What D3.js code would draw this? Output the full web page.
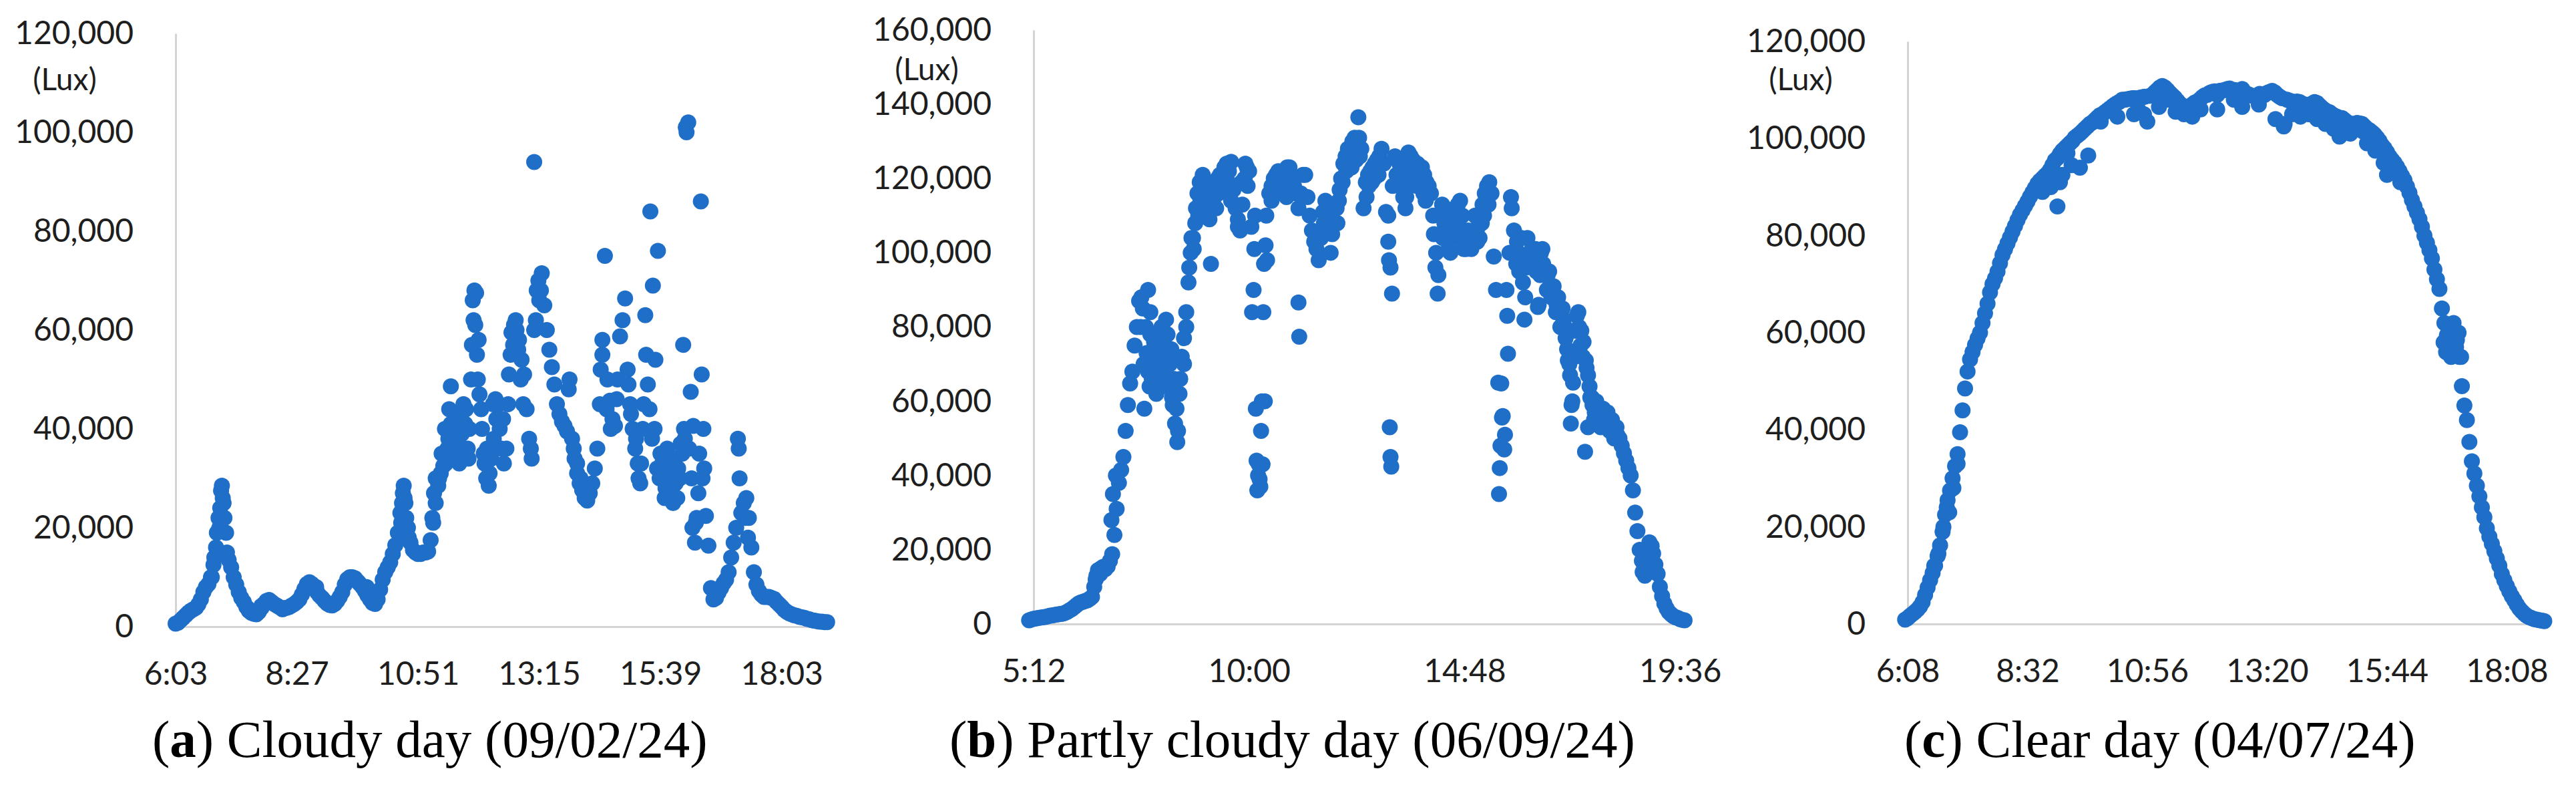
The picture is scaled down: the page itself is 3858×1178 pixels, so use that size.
<!DOCTYPE html>
<html>
<head>
<meta charset="utf-8">
<script src="https://cdn.jsdelivr.net/npm/d3@7"></script>
<style>
  html, body { margin: 0; padding: 0; background: #ffffff; }
  svg { display: block; }
</style>
</head>
<body>
<svg id="chart" width="3858" height="1178"></svg>
<script>
// ---------------- DATA (illuminance in thousands of lux) ----------------
// Panel (a) cloudy day: readings every 3 minutes from 6:03
const cloudyStart = "6:03";
const cloudyStepMin = 3;
const cloudyKlux = [
  0.6,0.8,1.3,1.8,2.3,2.8,3.2,3.5,3.8,4.5,
  5.5,7.0,8.0,8.6,10.0,12.5,16.0,22.0,27.5,25.0,
  19.0,13.5,12.0,10.0,8.5,7.0,5.8,5.0,4.0,3.2,
  2.8,2.6,2.5,3.0,3.8,4.6,5.2,5.4,5.0,4.6,
  4.3,4.0,3.8,3.7,3.8,4.0,4.3,4.6,5.0,5.5,
  6.5,7.6,8.6,9.0,8.6,7.8,7.0,6.3,5.8,5.2,
  4.7,4.4,4.3,4.6,5.2,6.0,7.0,8.5,9.6,10.0,
  10.0,9.8,9.2,8.6,8.0,7.2,6.3,5.5,4.8,4.6,
  5.5,7.5,9.5,11.0,12.0,13.0,14.7,16.5,19.0,23.0,
  27.0,25.0,20.0,17.0,15.5,15.0,14.7,14.7,15.0,15.0,
  15.2,17.5,21.0,25.0,28.5,31.0,32.5,33.0,38.0,41.0,
  40.0,43.0,38.0,42.0,36.0,44.0,34.0,50.0,62.0,67.5,
  58.0,44.0,35.0,30.0,28.5,34.0,38.0,42.0,45.0,36.0,
  33.0,36.0,51.0,59.5,61.0,60.0,58.0,54.0,51.0,44.0,
  38.0,34.0,60.0,68.0,66.0,71.5,65.0,60.0,56.0,52.5,
  49.0,45.0,43.0,41.5,40.6,39.5,50.0,38.0,34.0,31.0,
  29.0,27.6,26.0,25.5,27.0,29.0,32.0,36.0,45.0,58.0,
  75.0,50.0,45.7,42.0,40.6,50.0,58.7,62.0,66.4,52.0,
  45.0,40.0,36.0,33.0,29.0,40.0,63.0,49.0,84.0,69.0,
  54.0,76.0,35.0,30.0,28.0,32.0,26.0,25.0,29.0,32.0,
  37.0,57.0,101.0,102.0,47.5,40.6,21.0,27.0,86.0,40.0,
  22.4,16.4,7.8,5.5,5.8,6.9,7.8,8.8,9.5,11.0,
  14.0,17.0,20.0,36.0,23.0,25.0,26.0,22.0,16.0,11.0,
  8.5,7.2,6.5,6.0,6.0,6.0,5.8,5.6,5.0,4.5,
  4.0,3.4,3.0,2.7,2.5,2.3,2.2,2.0,1.9,1.8,
  1.6,1.5,1.3,1.2,1.1,1.0,1.0,0.9,0.9
];
// extra scattered readings [time, klux]
const cloudyExtra = [
  ["6:55",20],["6:56",24],["6:58",28.5],["6:59",26],["7:01",22],["6:49",14],["6:52",19],["6:46",10],["7:04",15],
  ["7:30",3.5],["7:45",4.2],["8:10",3.5],["8:50",8.0],["9:40",9.0],["9:50",8.0],
  ["10:31",21],["10:32",25],["10:34",28.5],["10:35",26],["10:37",22],["10:40",18],
  ["11:08",22],["11:10",27],["11:12",30],
  ["11:16",30],["11:19",35],["11:23",40],["11:26",36],["11:28",44],["11:30",48.6],["11:32",35],["11:35",38],
  ["11:38",42],["11:40",33],["11:43",39],["11:47",41],["11:52",40],["11:45",45],["11:50",36],
  ["11:55",57],["11:56",66],["11:58",68],["11:59",61],["12:01",55],["12:02",50],["12:04",47],
  ["12:07",40],["12:10",33],["12:13",36],["12:16",31],["12:20",45],["12:23",46],
  ["12:28",40],["12:32",42],["12:38",45],["12:41",55],["12:44",57],["12:47",62],["12:50",56],["12:53",50],["12:56",45],
  ["13:09",94],["13:11",62],["13:14",70],["13:17",68],["13:05",36],
  ["13:50",48],["14:04",30],["14:10",28],["13:56",36],["14:00",33],
  ["14:28",52],["14:30",55],["14:40",40],["14:47",46],["14:35",44],
  ["15:01",49],["15:04",43],["15:10",38],["15:13",30],["15:16",33],["15:19",45],["15:22",55],
  ["15:26",44],["15:29",38],["15:32",40],["15:35",32],["15:38",30],["15:41",33],["15:44",26],["15:47",36],
  ["15:50",30],["15:53",28],["15:56",34],["15:59",26],["16:02",30],["16:05",35],
  ["16:07",40],["16:10",100],["16:08",38],["16:13",36],["16:16",30],["16:17",20],["16:20",17],["16:22",22],
  ["16:25",35],["16:28",51],["16:29",30],["16:31",32],
  ["17:11",38],["17:13",30],["17:20",22],["17:23",18]
];
const cloudyTicks = ["6:03","8:27","10:51","13:15","15:39","18:03"];
const cloudyYTicks = [0,20000,40000,60000,80000,100000,120000];

// Panel (b) partly cloudy day: readings every 3 minutes from 5:06
const partlyStart = "5:06";
const partlyStepMin = 3;
const partlyKlux = [
  1.0,1.2,1.4,1.5,1.6,1.7,1.8,1.9,2.0,2.2,
  2.3,2.4,2.5,2.6,2.7,2.8,3.0,3.3,3.7,4.0,
  4.5,5.0,5.5,5.8,6.0,6.2,6.4,6.8,7.3,10.0,
  13.0,14.0,15.0,15.4,14.8,15.5,17.0,18.8,24.0,31.0,
  38.0,41.5,45.0,52.0,59.0,64.8,68.0,75.0,80.0,87.0,
  88.0,70.0,80.0,68.0,78.0,72.0,66.0,74.0,70.0,80.0,
  76.0,82.0,72.0,64.0,59.0,54.0,49.0,62.0,72.0,77.0,
  84.0,92.0,100.0,104.0,108.0,116.0,119.0,117.0,113.0,110.0,
  115.0,97.0,114.0,117.0,120.0,121.0,120.0,123.0,124.0,122.0,
  124.5,117.0,112.0,107.0,106.0,113.0,120.0,123.0,122.0,107.0,
  90.0,58.0,40.0,37.0,43.0,60.0,98.0,116.0,118.0,120.0,
  121.0,122.0,120.0,119.0,121.0,123.0,123.0,120.0,118.0,116.0,
  112.0,116.0,121.0,121.0,115.0,110.0,106.0,103.0,101.0,98.0,
  104.0,111.0,114.0,112.0,108.0,105.0,108.0,112.0,114.0,120.0,
  124.0,126.0,128.0,127.0,130.0,131.0,129.0,131.0,128.0,112.0,
  119.0,121.0,122.0,123.0,124.0,125.0,126.0,128.0,124.0,111.0,
  103.0,96.0,118.0,126.0,125.0,124.0,122.0,118.0,115.0,127.0,
  126.0,125.0,124.0,124.0,123.0,123.0,121.0,119.0,118.0,116.0,
  110.0,96.0,89.0,105.0,113.0,108.0,104.0,102.0,106.0,110.0,
  111.0,113.0,114.0,110.0,106.0,104.0,102.0,101.0,103.0,106.0,
  107.0,110.0,113.0,116.0,118.0,119.0,116.0,99.0,90.0,65.0,
  48.0,56.0,51.0,83.0,100.0,112.0,106.0,97.0,100.0,99.0,
  92.0,88.0,104.0,100.0,101.0,100.0,95.0,86.0,100.0,97.0,
  95.0,94.0,91.0,90.0,88.0,86.0,85.0,84.0,82.0,77.0,
  71.0,67.0,60.0,72.0,83.0,80.0,79.0,76.0,71.0,67.0,
  61.0,59.0,57.0,56.0,55.0,56.0,56.0,55.0,55.0,54.0,
  53.0,52.0,51.0,50.0,48.0,46.0,44.0,42.0,40.0,36.0,
  30.0,25.0,20.0,17.0,15.0,18.0,20.0,19.5,19.0,16.0,
  13.5,10.0,7.5,5.5,4.2,3.2,2.6,2.1,1.8,1.6,
  1.3,1.1,1.0
];
const partlyExtra = [
  ["6:35",12],["6:38",14.5],["6:41",13.5],["6:56",28],["6:58",35],["7:02",40],
  ["7:40",58],["7:35",80],["7:38",85],["7:43",73],["7:47",64],["7:50",66],["7:53",76],["7:56",62],["7:59",68],
  ["8:02",73],["8:05",68],["8:08",70],["8:11",78],["8:14",70],["8:17",61],["8:20",66],["8:23",58],
  ["7:45",90],["7:48",84],["7:52",74],["7:57",78],["8:00",65],["8:04",80],["8:10",64],["8:16",74],["8:25",52],["8:28",66],
  ["8:33",70],["8:36",80],
  ["8:40",96],["8:43",104],["8:46",101],["8:49",112],["8:52",110],["8:55",114],["8:58",121],["9:01",118],
  ["9:04",116],["9:07",109],["9:10",113],["9:13",119],["9:16",112],["9:19",116],["9:22",118],["9:26",117],
  ["9:29",121],["9:32",119],["9:36",114],["9:41",118],["9:45",109],["9:50",119],["9:55",124],["9:58",118],
  ["10:04",84],["10:07",101],["10:08",110],["10:10",44],["10:11",36],["10:13",43],["10:14",39],["10:16",52],
  ["10:17",60],["10:19",84],["10:20",97],["10:22",102],["10:23",110],
  ["10:30",114],["10:35",117],["10:43",118],["10:50",115],["10:56",117],
  ["11:06",86.6],["11:07",77.4],
  ["11:40",108],["11:46",106],["11:49",100],["11:52",112],["11:58",108],["12:01",117],["12:05",119],["12:10",122],
  ["12:14",124],["12:17",123],["12:20",127],["12:23",125],["12:26",136.5],["12:28",126],
  ["12:37",115],["12:40",118],["12:44",119],["12:47",120],["12:50",122],["12:53",121],["12:56",124],
  ["13:06",110],["13:08",53],["13:09",45],["13:10",42.4],["13:11",89],["13:07",98],
  ["13:17",121],["13:20",120],["13:23",119],["13:26",115],["13:29",112],["13:35",122],["13:38",120],["13:41",121],
  ["13:44",118],["13:47",120],["13:50",118],["13:53",116],["13:56",114],
  ["14:07",105],["14:10",100],["14:13",94],["14:16",110],["14:19",104],["14:22",112],["14:26",105],["14:29",100],
  ["14:32",104],["14:35",106],["14:38",108],["14:41",110],["14:44",104],["14:47",101],["14:50",101],["14:53",106],
  ["15:02",110],["15:05",103],["15:08",104],["15:11",108],["15:14",110],["15:17",114],["15:20",113],
  ["15:34",35],["15:35",42],["15:37",64.8],["15:38",55.6],["15:41",47],["15:44",90],["15:46",72.8],["15:50",115],
  ["15:53",100],["15:58",103],["16:01",95],["16:04",104],["16:08",82],["16:10",96],["16:14",97],["16:17",98],
  ["16:20",96],["16:23",101],["16:26",85.4],["16:29",94],["16:32",101],
  ["16:38",90],["16:41",95],["16:44",88],["16:47",91],["16:50",84],["16:53",88],["16:56",80],["16:59",85],
  ["17:02",80],["17:05",74],["17:08",70],
  ["17:10",54],["17:11",59],["17:13",65],["17:16",79],["17:20",84],["17:23",75],["17:26",72],["17:29",46.4],
  ["17:31",69],["17:33",53],["17:35",64],["17:38",61],["17:41",55],["17:44",60],["17:47",58],["17:50",53],
  ["17:53",58],["17:56",53],["17:59",57],["18:02",52],["18:05",55],["18:08",50],["18:11",53],
  ["18:46",14],["18:49",13],["18:52",16],["18:55",22],["18:58",21]
];
const partlyTicks = ["5:12","10:00","14:48","19:36"];
const partlyYTicks = [0,20000,40000,60000,80000,100000,120000,140000,160000];

// Panel (c) clear day: readings every 3 minutes from 6:05
const clearStart = "6:05";
const clearStepMin = 3;
const clearKlux = [
  0.9,1.2,1.7,2.1,2.5,3.0,3.6,4.5,6.0,7.5,
  9.0,10.5,12.0,14.0,16.2,19.0,22.5,25.5,27.5,30.0,
  32.5,35.0,39.5,44.0,48.5,52.0,54.5,56.0,57.5,58.8,
  60.0,62.0,64.0,66.0,68.3,70.0,71.2,72.6,74.3,76.0,
  77.2,78.4,79.6,80.8,82.0,83.2,84.3,85.2,86.1,87.0,
  88.0,88.9,89.8,90.7,91.3,91.8,92.3,92.8,93.5,94.5,
  95.5,96.0,96.8,97.5,98.0,98.5,99.0,99.5,100.2,100.6,
  101.0,101.5,102.0,102.5,103.0,103.3,103.8,104.3,104.8,105.0,
  105.4,105.8,106.2,106.6,107.0,107.3,107.6,108.0,108.0,108.1,
  108.2,108.3,108.3,108.0,108.4,108.5,108.6,103.5,108.8,109.0,
  109.5,110.0,110.5,110.8,110.5,110.0,109.4,108.9,108.4,107.8,
  107.2,106.8,106.5,106.3,106.6,107.0,107.4,107.6,108.0,108.5,
  108.9,109.0,109.4,109.6,109.7,109.0,109.8,109.9,110.0,110.2,
  110.3,110.0,110.0,109.5,109.8,110.2,109.5,109.2,109.0,108.8,
  108.6,108.8,109.2,108.8,109.0,109.4,109.6,109.8,109.5,109.0,
  108.6,108.3,103.0,108.0,107.8,107.6,107.5,107.6,107.5,107.2,
  107.0,106.8,107.0,107.2,107.5,107.3,106.8,106.3,105.9,105.6,
  105.4,105.0,104.7,104.5,100.4,104.2,103.8,103.4,103.1,103.0,
  103.0,103.2,103.1,103.0,102.5,102.0,101.7,101.3,100.8,100.2,
  99.5,98.6,98.0,97.2,96.3,95.6,95.0,94.2,93.3,92.3,
  91.4,90.1,88.8,87.3,86.0,84.7,83.4,81.8,80.0,78.5,
  77.0,75.3,73.0,71.0,69.0,65.0,62.0,59.5,57.5,60.5,
  56.0,58.5,55.0,49.0,45.0,42.0,37.5,33.5,31.0,28.5,
  26.3,24.0,22.0,19.7,18.0,16.5,15.0,13.5,12.0,10.3,
  9.0,7.8,6.7,5.7,4.9,4.0,3.2,2.6,2.1,1.7,
  1.4,1.2,1.0,0.9,0.8,0.7,0.6
];
const clearExtra = [
  ["6:40",12],["6:45",14.5],["6:51",20],["6:55",24],["6:58",23],["7:03",28],["7:08",33],
  ["8:50",89],["9:00",90],["9:08",86],["9:11",91],["9:14",92.5],["9:20",97],["9:25",94.5],["9:35",94],["9:45",96.5],
  ["10:00",103.5],["10:20",104.5],["10:40",105],["10:45",106],["10:52",105],["11:10",106.5],
  ["11:20",108],["11:30",105.5],["11:40",105],["11:50",104.5],["12:00",106],["12:20",106],["12:40",108],
  ["12:50",106.5],["13:10",107],["13:30",104],["13:40",102.5],["13:50",105],["14:00",104.5],["14:10",105],
  ["14:20",104],["14:30",103],["14:40",102],["14:50",101],["15:00",101],["15:15",101.5],["15:20",99],
  ["15:30",97.5],["15:40",95],["15:44",92.5],["15:50",93],["16:00",91],
  ["16:52",58],["16:55",56],["16:58",60],["17:01",55],["17:04",62],["17:07",57],["17:10",60],["17:13",55]
];
const clearTicks = ["6:08","8:32","10:56","13:20","15:44","18:08"];
const clearYTicks = [0,20000,40000,60000,80000,100000,120000];

// ---------------- HELPERS ----------------
const toMin = s => { const [h, m] = s.split(":").map(Number); return h * 60 + m; };
const fmtTime = t => `${Math.floor(t / 60)}:${String(Math.round(t % 60)).padStart(2, "0")}`;

function buildPoints(start, step, values, extra) {
  const t0 = toMin(start);
  const pts = values.map((v, i) => ({ t: t0 + i * step, lux: v * 1000 }));
  extra.forEach(([s, v]) => pts.push({ t: toMin(s), lux: v * 1000 }));
  return pts;
}

// ---------------- LAYOUT ----------------
const panels = [
  { points: buildPoints(cloudyStart, cloudyStepMin, cloudyKlux, cloudyExtra),
    ticks: cloudyTicks, yTicks: cloudyYTicks,
    xLeft: 263, xRight: 1240, xEndTime: "18:58", yBottom: 938, yTop: 50,
    lux: [97, 118],
    caption: { x: 228, letter: "a", text: " Cloudy day (09/02/24)" } },
  { points: buildPoints(partlyStart, partlyStepMin, partlyKlux, partlyExtra),
    ticks: partlyTicks, yTicks: partlyYTicks,
    xLeft: 1548, xRight: 2533, xEndTime: "19:51", yBottom: 934, yTop: 45,
    lux: [1388, 103],
    caption: { x: 1422, letter: "b", text: " Partly cloudy day (06/09/24)" } },
  { points: buildPoints(clearStart, clearStepMin, clearKlux, clearExtra),
    ticks: clearTicks, yTicks: clearYTicks,
    xLeft: 2857, xRight: 3808, xEndTime: "18:51", yBottom: 934, yTop: 62,
    lux: [2697, 118],
    caption: { x: 2852, letter: "c", text: " Clear day (04/07/24)" } }
];

const svg = d3.select("#chart");
svg.append("rect").attr("width", 3858).attr("height", 1178).attr("fill", "#ffffff");

const axisFont = "Lato, 'Open Sans', sans-serif";
const axisFontSize = 48;
const labelColor = "#1e1e1e";
const axisColor = "#d4d4d4";
const dotColor = "#1f6fc9";

panels.forEach(p => {
  const tStart = toMin(p.ticks[0]);
  const x = d3.scaleLinear().domain([tStart, toMin(p.xEndTime)]).range([p.xLeft, p.xRight]);
  const yMax = p.yTicks[p.yTicks.length - 1];
  const y = d3.scaleLinear().domain([0, yMax]).range([p.yBottom, p.yTop]);

  const g = svg.append("g");

  // y axis
  const yAxis = d3.axisLeft(y).tickValues(p.yTicks).tickFormat(d3.format(",")).tickSize(0).tickPadding(63);
  const gy = g.append("g").attr("transform", `translate(${p.xLeft},0)`).call(yAxis);
  gy.select(".domain").attr("stroke", axisColor).attr("stroke-width", 3);
  gy.selectAll("text").attr("font-family", axisFont).attr("font-size", axisFontSize).attr("fill", labelColor);

  // x axis
  const xAxis = d3.axisBottom(x).tickValues(p.ticks.map(toMin)).tickFormat(fmtTime).tickSize(0).tickPadding(53);
  const gx = g.append("g").attr("transform", `translate(0,${p.yBottom})`).call(xAxis);
  gx.select(".domain").attr("stroke", axisColor).attr("stroke-width", 3);
  gx.selectAll("text").attr("font-family", axisFont).attr("font-size", axisFontSize).attr("fill", labelColor);

  // unit label
  g.append("text").attr("x", p.lux[0]).attr("y", p.lux[1]).attr("dy", "0.36em")
    .attr("text-anchor", "middle").attr("font-family", axisFont).attr("font-size", 46)
    .attr("fill", labelColor).text("(Lux)");

  // points
  g.append("g").selectAll("circle").data(p.points).join("circle")
    .attr("cx", d => x(d.t)).attr("cy", d => y(d.lux)).attr("r", 12).attr("fill", dotColor);

  // caption
  const cap = svg.append("text").attr("x", p.caption.x).attr("y", 1133)
    .attr("font-family", "'Liberation Serif', 'Times New Roman', serif").attr("font-size", 79).attr("fill", "#000");
  cap.append("tspan").text("(");
  cap.append("tspan").attr("font-weight", "bold").text(p.caption.letter);
  cap.append("tspan").text(")" + p.caption.text);
});
</script>
</body>
</html>
